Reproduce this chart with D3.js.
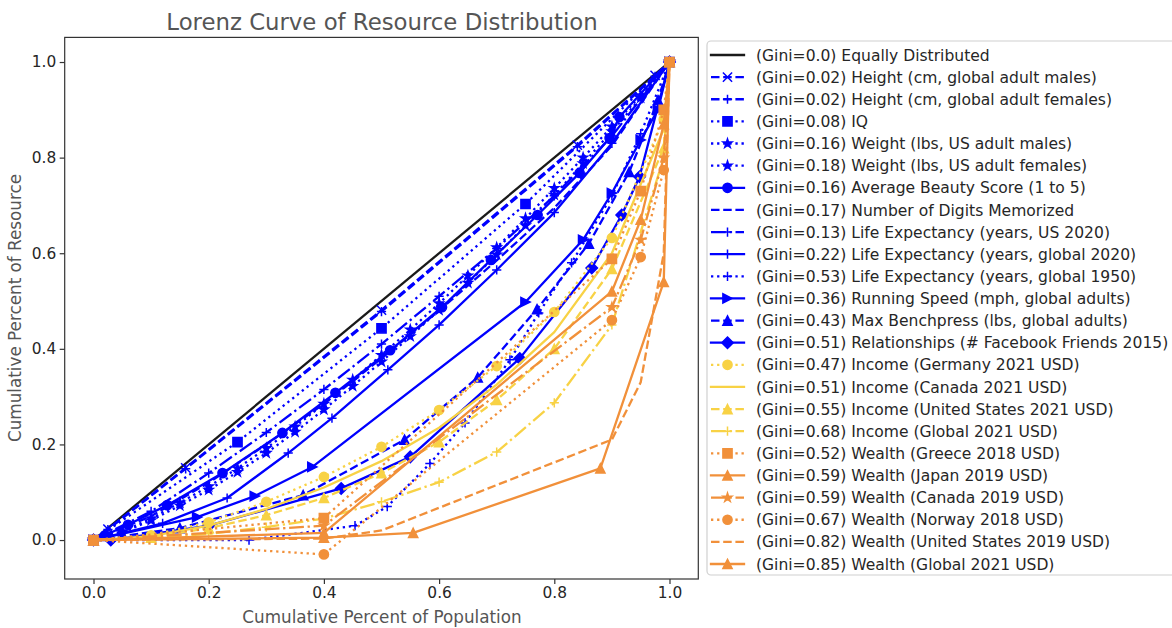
<!DOCTYPE html>
<html><head><meta charset="utf-8">
<script src="https://cdn.jsdelivr.net/npm/d3@7"></script>
<style>
body{margin:0;background:#fff}
svg{display:block}
text{font-family:"DejaVu Sans",sans-serif}
</style>
</head><body>
<svg id="c" width="1172" height="628"></svg>
<script>
// ---------- DATA ----------
const labels = [
  "(Gini=0.0) Equally Distributed",
  "(Gini=0.02) Height (cm, global adult males)",
  "(Gini=0.02) Height (cm, global adult females)",
  "(Gini=0.08) IQ",
  "(Gini=0.16) Weight (lbs, US adult males)",
  "(Gini=0.18) Weight (lbs, US adult females)",
  "(Gini=0.16) Average Beauty Score (1 to 5)",
  "(Gini=0.17) Number of Digits Memorized",
  "(Gini=0.13) Life Expectancy (years, US 2020)",
  "(Gini=0.22) Life Expectancy (years, global 2020)",
  "(Gini=0.53) Life Expectancy (years, global 1950)",
  "(Gini=0.36) Running Speed (mph, global adults)",
  "(Gini=0.43) Max Benchpress (lbs, global adults)",
  "(Gini=0.51) Relationships (# Facebook Friends 2015)",
  "(Gini=0.47) Income (Germany 2021 USD)",
  "(Gini=0.51) Income (Canada 2021 USD)",
  "(Gini=0.55) Income (United States 2021 USD)",
  "(Gini=0.68) Income (Global 2021 USD)",
  "(Gini=0.52) Wealth (Greece 2018 USD)",
  "(Gini=0.59) Wealth (Japan 2019 USD)",
  "(Gini=0.59) Wealth (Canada 2019 USD)",
  "(Gini=0.67) Wealth (Norway 2018 USD)",
  "(Gini=0.82) Wealth (United States 2019 USD)",
  "(Gini=0.85) Wealth (Global 2021 USD)"
];
const xTicks = [0, 0.2, 0.4, 0.6, 0.8, 1.0];
const yTicks = [0, 0.2, 0.4, 0.6, 0.8, 1.0];

// cumulative population shares
const popEqual   = [0, 1];
const popHeight  = [0, 0.025, 0.16, 0.5, 0.84, 0.975, 1];
const popIQ      = [0, 0.25, 0.5, 0.75, 1];
const popWeight  = [0,0.05,0.1,0.15,0.2,0.25,0.3,0.35,0.4,0.45,0.5,0.55,0.6,0.65,0.7,0.75,0.8,0.85,0.9,0.95,1];
const popBeauty  = [0, 0.02, 0.06, 0.128, 0.224, 0.328, 0.42, 0.515, 0.605, 0.69, 0.771, 0.844, 0.896, 0.913, 1];
const popDeciles = [0, 0.1, 0.2, 0.3, 0.4, 0.5, 0.6, 0.7, 0.8, 0.9, 1];
const popLife2020= [0, 0.12, 0.232, 0.338, 0.414, 0.511, 0.6, 0.7, 0.8, 0.9, 1];
const popLife1950= [0, 0.27, 0.454, 0.51, 0.584, 0.645, 0.723, 0.773, 0.83, 0.9, 0.95, 1];
const popRunning = [0, 0.18, 0.28, 0.38, 0.75, 0.85, 0.9, 0.95, 0.98, 1];
const popBench   = [0, 0.15, 0.364, 0.54, 0.667, 0.77, 0.86, 0.93, 0.98, 1];
const popFacebook= [0, 0.03, 0.2, 0.43, 0.55, 0.74, 0.865, 0.917, 0.948, 1];
const popIncome  = [0, 0.1, 0.2, 0.3, 0.4, 0.5, 0.6, 0.7, 0.8, 0.9, 0.99, 1];
const popWealth  = [0, 0.4, 0.9, 0.95, 0.99, 1];
const popWealthUS= [0, 0.4, 0.5, 0.9, 0.95, 0.99, 1];
const popWealthGl= [0, 0.4, 0.555, 0.88, 0.99, 1];

// cumulative resource shares
const resEqual        = [0, 1];
const resHeightMales  = [0, 0.023, 0.151, 0.481, 0.826, 0.972, 1];
const resHeightFemales= [0, 0.022, 0.149, 0.478, 0.823, 0.970, 1];
const resIQ           = [0, 0.205, 0.443, 0.703, 1];
const resWeightMales  = [0,0.018,0.045,0.078,0.112,0.15,0.192,0.237,0.285,0.335,0.387,0.44,0.495,0.553,0.612,0.673,0.736,0.8,0.865,0.93,1];
const resWeightFemales= [0,0.016,0.041,0.072,0.105,0.142,0.182,0.226,0.273,0.322,0.373,0.426,0.481,0.538,0.597,0.658,0.722,0.788,0.855,0.925,1];
const resBeauty       = [0, 0.01, 0.032, 0.073, 0.14, 0.224, 0.308, 0.397, 0.487, 0.586, 0.68, 0.768, 0.841, 0.885, 1];
const resDigits       = [0, 0.05, 0.12, 0.2, 0.285, 0.38, 0.48, 0.585, 0.695, 0.825, 1];
const resLifeUS       = [0, 0.06, 0.14, 0.225, 0.315, 0.41, 0.51, 0.61, 0.72, 0.845, 1];
const resLife2020     = [0, 0.035, 0.088, 0.182, 0.255, 0.356, 0.45, 0.565, 0.685, 0.83, 1];
const resLife1950     = [0, 0.0, 0.03, 0.07, 0.16, 0.245, 0.377, 0.475, 0.58, 0.72, 0.85, 1];
const resRunning      = [0, 0.048, 0.092, 0.153, 0.498, 0.628, 0.726, 0.837, 0.9, 1];
const resBench        = [0, 0.025, 0.094, 0.21, 0.34, 0.483, 0.62, 0.77, 0.92, 1];
const resFacebook     = [0, 0.0, 0.03, 0.108, 0.174, 0.38, 0.569, 0.68, 0.76, 1];
const resIncGermany   = [0, 0.01, 0.037, 0.08, 0.132, 0.195, 0.272, 0.364, 0.477, 0.632, 0.88, 1];
const resIncCanada    = [0, 0.008, 0.03, 0.065, 0.11, 0.165, 0.235, 0.325, 0.435, 0.6, 0.86, 1];
const resIncUS        = [0, 0.005, 0.025, 0.052, 0.088, 0.14, 0.205, 0.293, 0.40, 0.567, 0.82, 1];
const resIncGlobal    = [0, 0.005, 0.013, 0.027, 0.045, 0.08, 0.121, 0.184, 0.287, 0.45, 0.8, 1];
const resWlGreece     = [0, 0.046, 0.588, 0.73, 0.9, 1];
const resWlJapan      = [0, 0.015, 0.52, 0.67, 0.87, 1];
const resWlCanada     = [0, 0.03, 0.487, 0.628, 0.8, 1];
const resWlNorway     = [0, -0.03, 0.46, 0.592, 0.774, 1];
const resWlUS         = [0, 0.003, 0.02, 0.21, 0.33, 0.6, 1];
const resWlGlobal     = [0, 0.005, 0.015, 0.15, 0.54, 1];

const populations = [popEqual, popHeight, popHeight, popIQ, popWeight, popWeight, popBeauty, popDeciles,
  popDeciles, popLife2020, popLife1950, popRunning, popBench, popFacebook,
  popIncome, popIncome, popIncome, popIncome, popWealth, popWealth, popWealth, popWealth, popWealthUS, popWealthGl];
const resources = [resEqual, resHeightMales, resHeightFemales, resIQ, resWeightMales, resWeightFemales, resBeauty, resDigits,
  resLifeUS, resLife2020, resLife1950, resRunning, resBench, resFacebook,
  resIncGermany, resIncCanada, resIncUS, resIncGlobal, resWlGreece, resWlJapan, resWlCanada, resWlNorway, resWlUS, resWlGlobal];

// ---------- STYLES ----------
const BLUE = "#0000ff", YEL = "#f8d245", ORG = "#f1903a", BLK = "#1a1a1a";
const styles = [
  {c:BLK, ls:"solid", m:null},
  {c:BLUE, ls:"dashed", m:"x"},
  {c:BLUE, ls:"dashed", m:"+"},
  {c:BLUE, ls:"dotted", m:"s"},
  {c:BLUE, ls:"dotted", m:"*"},
  {c:BLUE, ls:"dotted", m:"*"},
  {c:BLUE, ls:"solid", m:"o"},
  {c:BLUE, ls:"dashed", m:null},
  {c:BLUE, ls:"dashdot", m:"+"},
  {c:BLUE, ls:"solid", m:"+"},
  {c:BLUE, ls:"dotted", m:"+"},
  {c:BLUE, ls:"solid", m:">"},
  {c:BLUE, ls:"dashed", m:"^"},
  {c:BLUE, ls:"solid", m:"D"},
  {c:YEL, ls:"dotted", m:"o"},
  {c:YEL, ls:"solid", m:null},
  {c:YEL, ls:"dashed", m:"^"},
  {c:YEL, ls:"dashdot", m:"+"},
  {c:ORG, ls:"dotted", m:"s"},
  {c:ORG, ls:"solid", m:"^"},
  {c:ORG, ls:"dashdot", m:"*"},
  {c:ORG, ls:"dotted", m:"o"},
  {c:ORG, ls:"dashed", m:null},
  {c:ORG, ls:"solid", m:"^"}
];
const LW = 2.3, MEW = 1.5, MS = 9.2;
const DASH = {solid:null, dashed:"8.5,3.7", dotted:"2.3,3.8", dashdot:"14.8,3.7,2.3,3.7"};

function markerPath(t){
  const s = MS/2;
  switch(t){
    case "o": return `M${s},0A${s},${s} 0 1 1 ${-s},0A${s},${s} 0 1 1 ${s},0Z`;
    case "s": return `M${-s},${-s}H${s}V${s}H${-s}Z`;
    case "^": return `M0,${-s}L${s},${s}L${-s},${s}Z`;
    case ">": return `M${s},0L${-s},${s}L${-s},${-s}Z`;
    case "D": { const d = MS*0.62; return `M0,${-d}L${d},0L0,${d}L${-d},0Z`; }
    case "x": return `M${-s},${-s}L${s},${s}M${-s},${s}L${s},${-s}`;
    case "+": return `M${-s},0H${s}M0,${-s}V${s}`;
    case "*": {
      const pts = [];
      for (let i=0;i<10;i++){
        const r = i%2===0 ? s : s*0.381966;
        const a = -Math.PI/2 + i*Math.PI/5;
        pts.push([r*Math.cos(a), r*Math.sin(a)]);
      }
      return "M"+pts.map(p=>p[0].toFixed(2)+","+p[1].toFixed(2)).join("L")+"Z";
    }
  }
  return "";
}
const lineMarker = t => t==="x" || t==="+";

// ---------- CHART ----------
const svg = d3.select("#c");
const x = d3.scaleLinear().domain([-0.05, 1.05]).range([64.7, 698.3]);
const y = d3.scaleLinear().domain([-0.0815, 1.0515]).range([579, 37.4]);

const plot = svg.append("g");
const line = d3.line().x(d=>x(d[0])).y(d=>y(d[1]));

labels.forEach((lab, i) => {
  const st = styles[i];
  const pts = populations[i].map((p, k) => [p, resources[i][k]]);
  const g = plot.append("g");
  g.append("path").attr("d", line(pts))
    .attr("fill","none").attr("stroke", st.c).attr("stroke-width", LW)
    .attr("stroke-linejoin","round")
    .attr("stroke-linecap", st.ls==="solid" ? "square" : "butt")
    .attr("stroke-dasharray", DASH[st.ls]);
  if (st.m) {
    g.selectAll("path.m").data(pts).join("path").attr("class","m")
      .attr("d", markerPath(st.m))
      .attr("transform", d=>`translate(${x(d[0])},${y(d[1])})`)
      .attr("fill", lineMarker(st.m) ? "none" : st.c)
      .attr("stroke", st.c).attr("stroke-width", MEW)
      .attr("stroke-linejoin","miter");
  }
});

// axes
const xAxis = svg.append("g").attr("transform", `translate(0,${y.range()[0]})`)
  .call(d3.axisBottom(x).tickValues(xTicks).tickFormat(d3.format(".1f")).tickSize(5).tickSizeOuter(0));
const yAxis = svg.append("g").attr("transform", `translate(${x.range()[0]},0)`)
  .call(d3.axisLeft(y).tickValues(yTicks).tickFormat(d3.format(".1f")).tickSize(5).tickSizeOuter(0));
[xAxis, yAxis].forEach(a => {
  a.select(".domain").remove();
  a.selectAll(".tick line").attr("stroke","#333").attr("stroke-width",1.2);
  a.selectAll(".tick text").attr("font-family","DejaVu Sans").attr("font-size",15.4).attr("fill","#262626");
});
yAxis.selectAll(".tick text").attr("x",-8.5);
xAxis.selectAll(".tick text").attr("y",8.5);

// frame
svg.append("rect").attr("x", x.range()[0]).attr("y", y.range()[1])
  .attr("width", x.range()[1]-x.range()[0]).attr("height", y.range()[0]-y.range()[1])
  .attr("fill","none").attr("stroke","#333").attr("stroke-width",1.2);

// titles
svg.append("text").attr("x", 382).attr("y", 30).attr("text-anchor","middle")
  .attr("font-size", 22.8).attr("fill","#555").text("Lorenz Curve of Resource Distribution");
svg.append("text").attr("x", 382).attr("y", 623).attr("text-anchor","middle")
  .attr("font-size", 16.8).attr("fill","#555").text("Cumulative Percent of Population");
svg.append("text").attr("transform","translate(21,308) rotate(-90)").attr("text-anchor","middle")
  .attr("font-size", 16.8).attr("fill","#555").text("Cumulative Percent of Resource");

// legend
const leg = svg.append("g");
leg.append("rect").attr("x",707).attr("y",41).attr("width",480).attr("height",534)
  .attr("rx",4).attr("fill","#fff").attr("fill-opacity",0.85).attr("stroke","#d0d0d0").attr("stroke-width",1.2);
const rowY = i => 55 + i*22.13;
labels.forEach((lab, i) => {
  const st = styles[i];
  const g = leg.append("g").attr("transform", `translate(0,${rowY(i)})`);
  g.append("line").attr("x1",711).attr("x2",744).attr("y1",0).attr("y2",0)
    .attr("stroke", st.c).attr("stroke-width", LW)
    .attr("stroke-linecap", st.ls==="solid" ? "square" : "butt")
    .attr("stroke-dasharray", DASH[st.ls]);
  if (st.m) {
    g.append("path").attr("d", markerPath(st.m)).attr("transform","translate(727.5,0)")
      .attr("fill", lineMarker(st.m) ? "none" : st.c).attr("stroke", st.c).attr("stroke-width", MEW);
  }
  g.append("text").attr("x",756).attr("y",0).attr("dy","0.36em")
    .attr("font-size",15.55).attr("fill","#262626").text(lab);
});
</script>
</body></html>
